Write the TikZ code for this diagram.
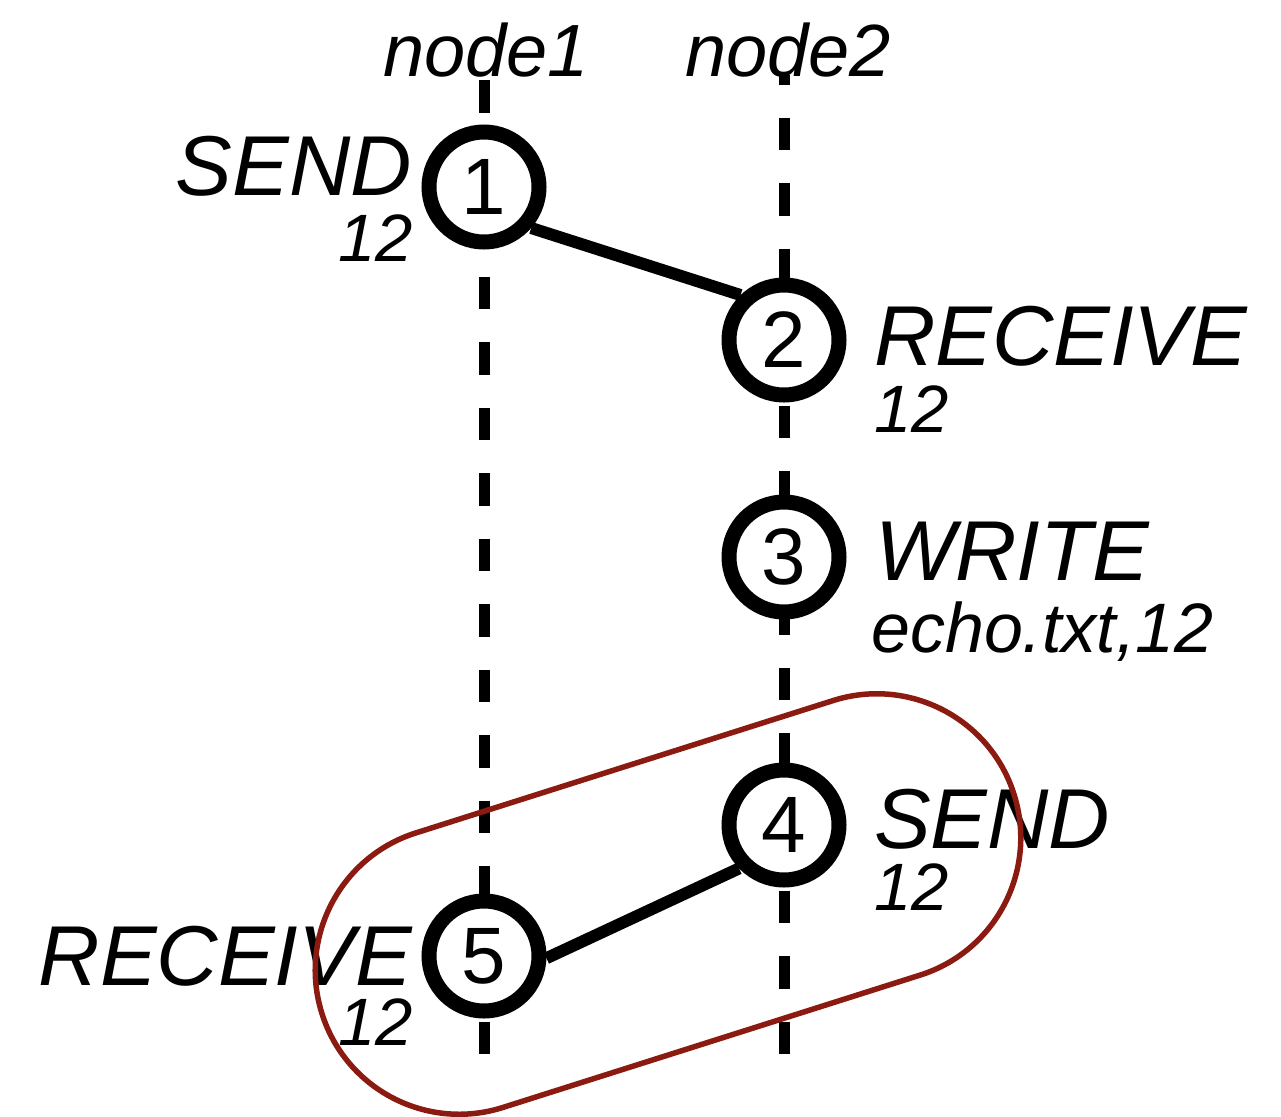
\documentclass[tikz,border=0pt]{standalone}
\usepackage{fontspec}
\setmainfont{Liberation Sans}
\usetikzlibrary{shapes.misc}
\definecolor{grpred}{RGB}{139,26,17}
\tikzset{
  life/.style={line width=11pt, dash pattern=on 32.7pt off 32.8pt},
  evt/.style={circle, draw, fill=white, line width=15pt, minimum size=110pt, inner sep=0pt,
              font=\fontsize{80}{80}\selectfont},
  msg/.style={line width=12pt},
  bigl/.style={inner sep=0pt, text depth=0pt, font=\fontsize{85}{85}\selectfont\itshape},
  smalll/.style={inner sep=0pt, text height=44pt, font=\fontsize{67}{67}\selectfont\itshape},
  namel/.style={inner sep=0pt, font=\fontsize{74}{74}\selectfont\itshape},
  grpbox/.style={rounded rectangle, draw=grpred, line width=5.5pt, minimum width=726pt,
                 minimum height=288pt, inner sep=0pt}
}
\begin{document}
\begin{tikzpicture}[x=1pt,y=-1pt]
\fill[white] (0,0) rectangle (1281,1116);
\useasboundingbox (0,0) rectangle (1281,1116);
% positions
\coordinate (p1) at (484,187);
\coordinate (p2) at (784,340);
\coordinate (p3) at (784,557);
\coordinate (p4) at (784,825);
\coordinate (p5) at (484,956);
\coordinate (l1top) at (484,80);
\coordinate (l1bot) at (484,1057);
\coordinate (l2top) at (784,75);
\coordinate (l2bot) at (784,1057);
% lifelines
\draw[life] (l1top) -- (p5);
\draw[life] (p5) -- (l1bot);
\draw[life, dash phase=23pt] (l2top) -- (p2);
\draw[life] (p2) -- (p4);
\draw[life] (p4) -- (l2bot);
% lifeline names
\node[namel, anchor=base] (n1name) at (486,76) {node1};
\node[namel, anchor=base] (n2name) at (788,76) {node2};
% events
\node[evt] (c1) at (p1) {1};
\node[evt] (c2) at (p2) {2};
\node[evt] (c3) at (p3) {3};
\node[evt] (c4) at (p4) {4};
\node[evt] (c5) at (p5) {5};
% messages
\draw[msg] (c1.-41) -- (c2.134);
\draw[msg] (c5.-2) -- (c4.224);
% labels
\node[bigl, anchor=base east] (t1) at (412,195) {SEND};
\node[smalll, anchor=base east] (t1b) at (413,261) {12};
\node[bigl, anchor=base west] (t2) at (874,365) {RECEIVE};
\node[smalll, anchor=base west] (t2b) at (874,432) {12};
\node[bigl, anchor=base west] (t3) at (875,580) {WRITE};
\node[smalll, anchor=base west, font=\fontsize{70}{70}\selectfont\itshape] (t3b) at (871,652) {echo.txt,12};
\node[bigl, anchor=base west] (t4) at (874,848) {SEND};
\node[smalll, anchor=base west] (t4b) at (874,910) {12};
\node[bigl, anchor=base east] (t5) at (412,985) {RECEIVE};
\node[smalll, anchor=base east] (t5b) at (413,1045) {12};
% group outline
\node[grpbox, rotate=17.6] (grp) at (668,904) {};
\end{tikzpicture}
\end{document}
